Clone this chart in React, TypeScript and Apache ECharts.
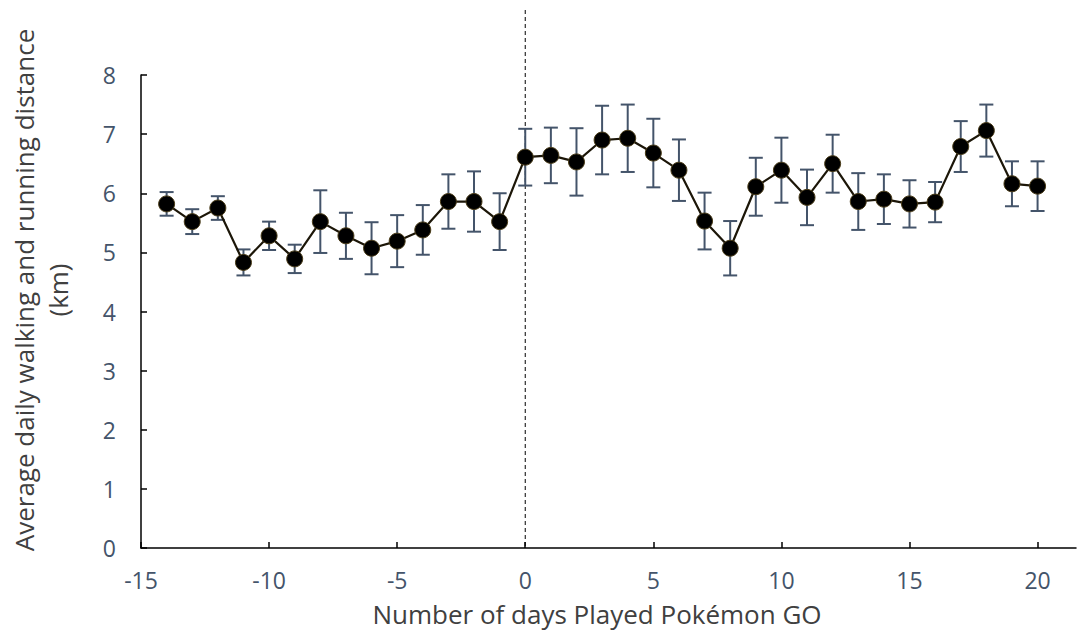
import React, { useEffect, useRef } from "react";
import * as echarts from "echarts";

const days = [-14, -13, -12, -11, -10, -9, -8, -7, -6, -5, -4, -3, -2, -1, 0, 1, 2, 3, 4, 5, 6, 7, 8, 9, 10, 11, 12, 13, 14, 15, 16, 17, 18, 19, 20];
const meanKm = [5.82, 5.52, 5.75, 4.83, 5.28, 4.89, 5.52, 5.28, 5.07, 5.19, 5.38, 5.86, 5.86, 5.52, 6.61, 6.64, 6.53, 6.90, 6.93, 6.68, 6.39, 5.53, 5.07, 6.11, 6.39, 5.93, 6.50, 5.86, 5.90, 5.82, 5.85, 6.79, 7.06, 6.16, 6.12];
const errKm = [0.20, 0.21, 0.20, 0.22, 0.24, 0.24, 0.53, 0.39, 0.44, 0.44, 0.42, 0.46, 0.51, 0.48, 0.48, 0.47, 0.57, 0.58, 0.57, 0.58, 0.52, 0.48, 0.46, 0.49, 0.55, 0.47, 0.49, 0.48, 0.42, 0.40, 0.34, 0.43, 0.44, 0.38, 0.42];

const xTitle = "Number of days Played Pokémon GO";
const yTitle = "Average daily walking and running distance\n(km)";
const FONT = "'Open Sans', 'Noto Sans', sans-serif";

export default function App() {
  const ref = useRef<HTMLDivElement>(null);
  useEffect(() => {
    if (!ref.current) return;
    const chart = echarts.init(ref.current, null, { renderer: "svg" });
    const lineData = days.map((d, i) => [d, meanKm[i]]);
    const errData = days.map((d, i) => [d, meanKm[i] - errKm[i], meanKm[i] + errKm[i]]);
    chart.setOption({
      animation: false,
      backgroundColor: "#ffffff",
      grid: { left: 141, right: 3, top: 75, bottom: 85, containLabel: false },
      xAxis: {
        type: "value",
        min: -15,
        max: 21.5,
        interval: 5,
        splitLine: { show: false },
        axisLine: { show: true, onZero: false, lineStyle: { color: "#000", width: 1.5 } },
        axisTick: { show: true, inside: true, length: 6, lineStyle: { color: "#000", width: 1.5 } },
        axisLabel: {
          color: "#44546A",
          fontSize: 23,
          fontFamily: FONT,
          margin: 20,
          showMaxLabel: false,
          formatter: (v: number) => (v % 5 === 0 ? String(v) : ""),
        },
      },
      yAxis: {
        type: "value",
        min: 0,
        max: 8,
        interval: 1,
        splitLine: { show: false },
        axisLine: { show: true, onZero: false, lineStyle: { color: "#000", width: 1.5 } },
        axisTick: { show: true, inside: true, length: 6, lineStyle: { color: "#000", width: 1.5 } },
        axisLabel: { color: "#44546A", fontSize: 23, fontFamily: FONT, margin: 25 },
      },
      graphic: [
        {
          id: "xtitle",
          type: "text",
          x: 597,
          y: 614,
          style: { text: xTitle, font: `26px ${FONT}`, fill: "#404040", align: "center", verticalAlign: "middle" },
        },
        {
          id: "ytitle",
          type: "text",
          x: 41,
          y: 290,
          rotation: Math.PI / 2,
          style: {
            text: yTitle,
            font: `26px ${FONT}`,
            fill: "#404040",
            align: "center",
            verticalAlign: "middle",
            lineHeight: 34,
          },
        },
      ],
      series: [
        {
          type: "custom",
          z: 2,
          data: errData,
          renderItem: (params: any, api: any) => {
            const x = api.value(0);
            const lo = api.coord([x, api.value(1)]);
            const hi = api.coord([x, api.value(2)]);
            const w = 7;
            const style = { stroke: "#44546A", lineWidth: 2, fill: "none" };
            return {
              type: "group",
              children: [
                { type: "line", shape: { x1: lo[0], y1: lo[1], x2: hi[0], y2: hi[1] }, style },
                { type: "line", shape: { x1: lo[0] - w, y1: lo[1], x2: lo[0] + w, y2: lo[1] }, style },
                { type: "line", shape: { x1: hi[0] - w, y1: hi[1], x2: hi[0] + w, y2: hi[1] }, style },
              ],
            };
          },
        },
        {
          type: "line",
          z: 3,
          data: lineData,
          symbol: "circle",
          symbolSize: 16,
          lineStyle: { color: "#1c1608", width: 2.2 },
          itemStyle: { color: "#000000", borderColor: "#4a3c18", borderWidth: 1 },
        },
      ],
    });
    const x0 = chart.convertToPixel({ xAxisIndex: 0 }, 0) as number;
    const yb = chart.convertToPixel({ yAxisIndex: 0 }, 0) as number;
    chart.setOption({
      graphic: [
        {
          id: "vline",
          type: "line",
          shape: { x1: x0, y1: 10, x2: x0, y2: yb },
          style: { stroke: "#000", lineWidth: 1, lineDash: [4, 3] },
          z: 1,
        },
      ],
    });
    return () => chart.dispose();
  }, []);
  return <div ref={ref} style={{ position: "fixed", left: 0, top: 0, width: 1079, height: 633 }} />;
}
